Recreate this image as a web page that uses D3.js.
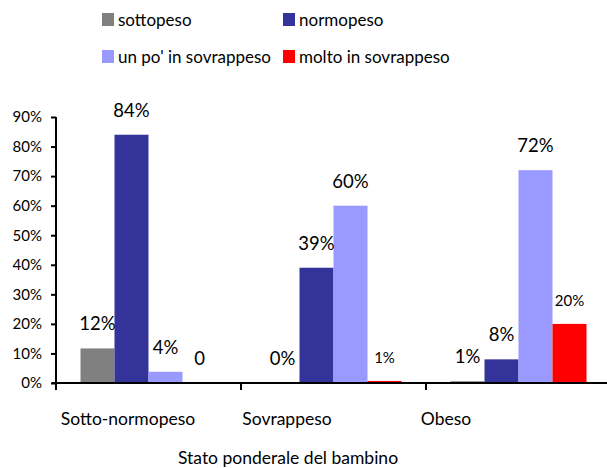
<!DOCTYPE html>
<html>
<head>
<meta charset="utf-8">
<script src="https://cdn.jsdelivr.net/npm/d3@7"></script>
<style>
  body { margin: 0; background: #fff; }
  text { font-family: Lato, "Open Sans", sans-serif; fill: #000; }
</style>
</head>
<body>
<svg id="chart"></svg>
<script>
// chart data
var categories = ["Sotto-normopeso", "Sovrappeso", "Obeso"];
var seriesNames = ["sottopeso", "normopeso", "un po' in sovrappeso", "molto in sovrappeso"];
var seriesColors = ["#808080", "#333399", "#9999FF", "#FF0000"];
var sottopeso = [11.7, 0, 0.6];
var normopeso = [84, 39, 8];
var unPoSovrappeso = [3.8, 60, 72];
var moltoSovrappeso = [0, 0.7, 20];
var labelsSottopeso = ["12%", "0%", "1%"];
var labelsNormopeso = ["84%", "39%", "8%"];
var labelsUnPo = ["4%", "60%", "72%"];
var labelsMolto = ["0", "1%", "20%"];
var yTicks = [0, 10, 20, 30, 40, 50, 60, 70, 80, 90];

var width = 607;
var height = 468;
var margin = {top: 117, right: 0, bottom: 85, left: 56};

var allValues = [sottopeso, normopeso, unPoSovrappeso, moltoSovrappeso];
var allLabels = [labelsSottopeso, labelsNormopeso, labelsUnPo, labelsMolto];

// one row per bar
var bars = [];
categories.forEach((c, i) => {
    seriesNames.forEach((s, j) => {
        bars.push({cat: c, series: s, j: j, value: allValues[j][i], label: allLabels[j][i]});
    });
});

var svg = d3.select("#chart")
    .attr("width", width)
    .attr("height", height);

var x0 = d3.scaleBand()
    .domain(categories)
    .range([margin.left, 611])
    .paddingInner(0)
    .paddingOuter(0);

var x1 = d3.scaleBand()
    .domain(seriesNames)
    .range([24.5, x0.bandwidth() - 24.5]);

var y = d3.scaleLinear()
    .domain([0, 90])
    .range([height - margin.bottom, margin.top]);

// category labels sit a bit left of the band centres in the original
var xLabel = d3.scalePoint()
    .domain(categories)
    .range([128, 446]);

// bars
svg.selectAll(".bar")
    .data(bars)
    .enter()
    .append("rect")
        .classed("bar", true)
        .attr("x", d => x0(d.cat) + x1(d.series))
        .attr("y", d => y(d.value))
        .attr("width", x1.bandwidth())
        .attr("height", d => y(0) - y(d.value))
        .attr("fill", (d) => seriesColors[d.j]);

// value labels (the last two of the red series are smaller in the original)
svg.selectAll(".val")
    .data(bars)
    .enter()
    .append("text")
        .classed("val", true)
        .attr("x", d => x0(d.cat) + x1(d.series) + x1.bandwidth() / 2)
        .attr("y", d => y(d.value) - 18)
        .attr("text-anchor", "middle")
        .style("font-size", d => (d.j === 3 && d.value > 0) ? "15px" : "18.5px")
        .text(d => d.label);

// y axis
var yAxis = d3.axisLeft(y)
    .tickValues(yTicks)
    .tickSize(5)
    .tickFormat(d => d + "%");

var gy = svg.append("g")
    .attr("transform", "translate(" + margin.left + ",0)")
    .call(yAxis);
gy.select(".domain").attr("stroke", "#000").attr("stroke-width", 2)
    .attr("d", "M0," + (y(0) + 7) + "V" + y(90));
gy.selectAll(".tick line").attr("stroke", "#000").attr("stroke-width", 2);
gy.selectAll(".tick text")
    .attr("x", -14)
    .style("font-size", "15px")
    .style("font-family", "Lato, sans-serif");

// x axis
var gx = svg.append("g")
    .attr("transform", "translate(0," + y(0) + ")");
gx.append("line")
    .attr("x1", margin.left - 4)
    .attr("x2", width)
    .attr("stroke", "#000")
    .attr("stroke-width", 2);
gx.selectAll(".xtick")
    .data(categories.slice(1))
    .enter()
    .append("line")
        .attr("x1", d => x0(d))
        .attr("x2", d => x0(d))
        .attr("y1", 0)
        .attr("y2", 7)
        .attr("stroke", "#000")
        .attr("stroke-width", 2);
gx.selectAll(".xlab")
    .data(categories)
    .enter()
    .append("text")
        .attr("x", d => xLabel(d))
        .attr("y", 42)
        .attr("text-anchor", "middle")
        .style("font-size", "17.5px")
        .text(d => d);

svg.append("text")
    .attr("x", 288)
    .attr("y", 464)
    .attr("text-anchor", "middle")
    .style("font-size", "17.5px")
    .text("Stato ponderale del bambino");

// legend
var legend = svg.selectAll(".legend")
    .data(seriesNames)
    .enter()
    .append("g")
        .classed("legend", true)
        .attr("transform", (d, i) => "translate(" + (102 + (i % 2) * 181) + "," + (13 + Math.floor(i / 2) * 37) + ")");
legend.append("rect")
    .attr("width", 12)
    .attr("height", 13)
    .attr("fill", (d, i) => seriesColors[i]);
legend.append("text")
    .attr("x", 16)
    .attr("y", 13)
    .style("font-size", "17px")
    .text(d => d);
</script>
</body>
</html>
